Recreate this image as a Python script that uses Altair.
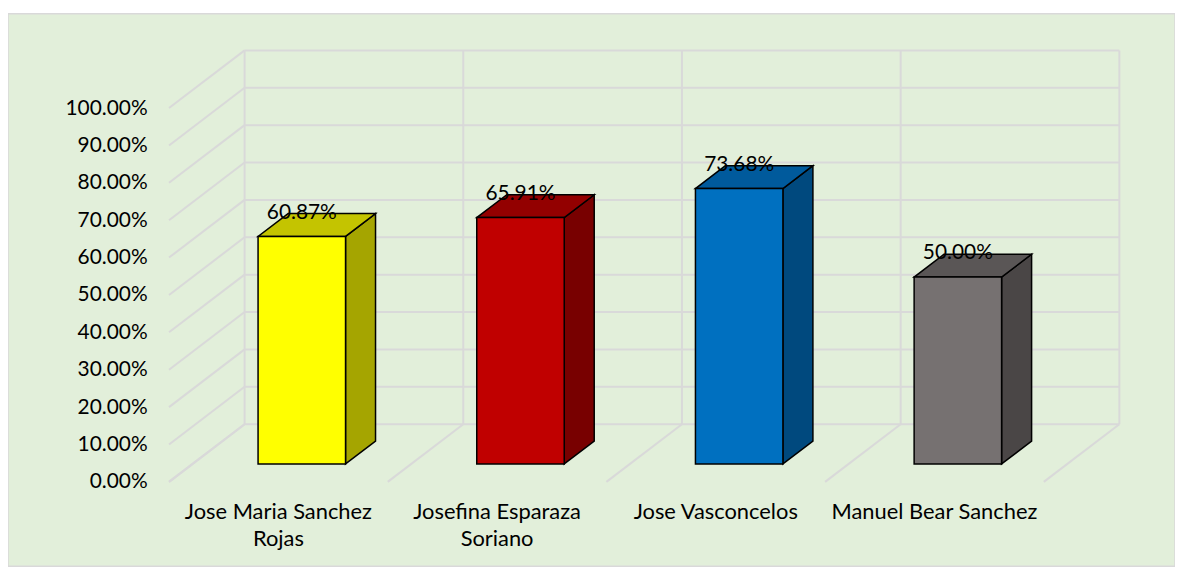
import altair as alt
import pandas as pd

# ---- data ----
names = ["Jose Maria Sanchez Rojas", "Josefina Esparaza Soriano", "Jose Vasconcelos", "Manuel Bear Sanchez"]
labels = ["Jose Maria Sanchez\nRojas", "Josefina Esparaza\nSoriano", "Jose Vasconcelos", "Manuel Bear Sanchez"]
values = [0.6087, 0.6591, 0.7368, 0.5000]
y_ticks = [0.0, 0.1, 0.2, 0.3, 0.4, 0.5, 0.6, 0.7, 0.8, 0.9, 1.0]

# ---- styles ----
front_colors = ["#FFFF00", "#C00000", "#0070C0", "#767171"]
top_colors = ["#C4C400", "#930000", "#005A9C", "#5A5656"]
side_colors = ["#A5A500", "#780000", "#00497E", "#4A4646"]
BG = "#E2EFDA"
GRID = "#D9D9D9"
FONT = "Lato"

# ---- oblique projection constants (data units) ----
DU, DV = 0.3455, 0.1543      # full depth shift of the 3D box
F0, F1 = 0.31, 0.707         # depth fraction of bar front / back faces
HALF = 0.2                   # half bar width (category = 1 unit)

n = len(names)
bars = pd.DataFrame({
    "idx": list(range(n)), "name": names, "label": labels, "value": values,
    "front": front_colors, "top": top_colors, "side": side_colors,
})
faces = pd.concat([bars.assign(t=0), bars.assign(t=1)], ignore_index=True)
ticks_df = pd.DataFrame({"v": y_ticks})
cats_df = pd.DataFrame({"u": list(range(n + 1))})

xs = alt.Scale(domain=[-162 / 220, (1174 - 162) / 220], nice=False, zero=False)
ys = alt.Scale(domain=[(471 - 556) / 376, 471 / 376], nice=False, zero=False)
yaxis = alt.Axis(values=y_ticks, format=".2%", offset=-162, labelPadding=22,
                 ticks=False, tickSize=0, domain=False, grid=False,
                 labelFont=FONT, labelFontSize=21, labelColor="black",
                 labelFlush=False, labelOverlap=False, title=None)

def X(f):
    return alt.X(f"{f}:Q", scale=xs, axis=None)

def Y(f):
    return alt.Y(f"{f}:Q", scale=ys, axis=yaxis)

rule = dict(color=GRID, strokeWidth=2)

back_h = alt.Chart(ticks_df).transform_calculate(
    x0=f"{DU}", x1=f"{n}+{DU}", yy=f"datum.v+{DV}"
).mark_rule(**rule).encode(x=X("x0"), x2="x1:Q", y=Y("yy"))

back_v = alt.Chart(cats_df).transform_calculate(
    xx=f"datum.u+{DU}", y0=f"{DV}", y1=f"1+{DV}"
).mark_rule(**rule).encode(x=X("xx"), y=Y("y0"), y2="y1:Q")

left_d = alt.Chart(ticks_df).transform_calculate(
    x0="0", x1=f"{DU}", y1=f"datum.v+{DV}"
).mark_rule(**rule).encode(x=X("x0"), x2="x1:Q", y=Y("v"), y2="y1:Q")

floor_d = alt.Chart(cats_df).transform_calculate(
    y0="0", x1=f"datum.u+{DU}", y1=f"{DV}"
).mark_rule(**rule).encode(x=X("u"), x2="x1:Q", y=Y("y0"), y2="y1:Q")

dd = F1 - F0
side = alt.Chart(faces).transform_calculate(
    sx=f"datum.idx+0.5+{HALF}+{F0*DU}+datum.t*{dd*DU}",
    sy0=f"{F0*DV}+datum.t*{dd*DV}",
    sy1=f"datum.value+{F0*DV}+datum.t*{dd*DV}",
).mark_area(orient="vertical", stroke="black", strokeWidth=1.5, strokeJoin="miter").encode(
    x=X("sx"), y=Y("sy0"), y2="sy1:Q", detail="name:N",
    fill=alt.Fill("side:N", scale=None),
)

top = alt.Chart(faces).transform_calculate(
    ty=f"datum.value+{F0*DV}+datum.t*{dd*DV}",
    tx0=f"datum.idx+0.5-{HALF}+{F0*DU}+datum.t*{dd*DU}",
    tx1=f"datum.idx+0.5+{HALF}+{F0*DU}+datum.t*{dd*DU}",
).mark_area(orient="horizontal", stroke="black", strokeWidth=1.5, strokeJoin="miter").encode(
    y=Y("ty"), x=X("tx0"), x2="tx1:Q", detail="name:N",
    fill=alt.Fill("top:N", scale=None),
)

front = alt.Chart(bars).transform_calculate(
    fx0=f"datum.idx+0.5-{HALF}+{F0*DU}",
    fx1=f"datum.idx+0.5+{HALF}+{F0*DU}",
    fy0=f"{F0*DV}",
    fy1=f"datum.value+{F0*DV}",
).mark_rect(stroke="black", strokeWidth=1.5).encode(
    x=X("fx0"), x2="fx1:Q", y=Y("fy0"), y2="fy1:Q",
    fill=alt.Fill("front:N", scale=None),
)

vlabels = alt.Chart(bars).transform_calculate(
    lx=f"datum.idx+0.5+{F0*DU}",
    ly=f"datum.value+{F0*DV}",
).mark_text(font=FONT, fontSize=21, color="black", align="center",
            baseline="alphabetic", dy=-18).encode(
    x=X("lx"), y=Y("ly"), text=alt.Text("value:Q", format=".2%"),
)

clabels = alt.Chart(bars).transform_calculate(
    cx="datum.idx+0.5", cy="0",
).mark_text(font=FONT, fontSize=22, color="black", align="center",
            baseline="alphabetic", dy=37, lineBreak="\n", lineHeight=28).encode(
    x=X("cx"), y=Y("cy"), text="label:N",
)

chart = alt.layer(
    back_h, back_v, left_d, floor_d, side, top, front, vlabels, clabels
).properties(
    width=1174, height=556,
    autosize=alt.AutoSizeParams(type="none"),
    padding={"left": 0, "top": 4, "right": 0, "bottom": 0},
).configure(background="white").configure_view(
    fill=BG, stroke=GRID, strokeWidth=1.5
)

chart.save("out.html", embed_options={"renderer": "svg", "actions": False})
